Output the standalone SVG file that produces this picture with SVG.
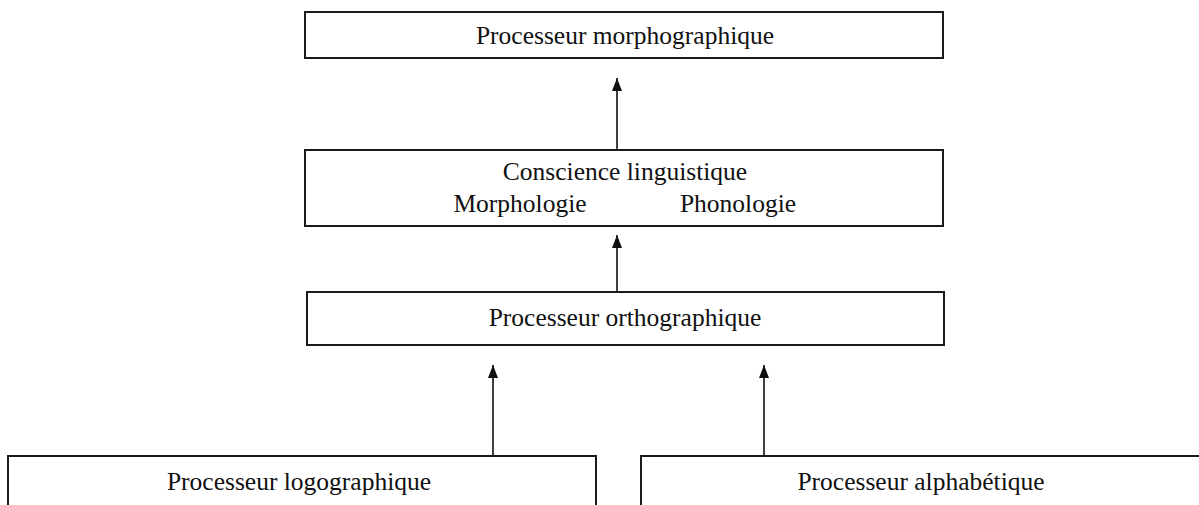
<svg xmlns="http://www.w3.org/2000/svg" width="1199" height="505" viewBox="0 0 1199 505">
  <style>
    .box { fill: #ffffff; stroke: #1a1a1a; stroke-width: 2; }
    .lbl { font-family: "Liberation Serif", "Times New Roman", serif; font-size: 25.5px; fill: #111111; text-anchor: middle; }
    .conn { stroke: #111111; stroke-width: 1.6; fill: none; }
  </style>
  <defs>
    <marker id="arr" viewBox="0 0 13 10" refX="13" refY="5" markerWidth="13" markerHeight="10" markerUnits="userSpaceOnUse" orient="auto">
      <path d="M0,0 L13,5 L0,10 Z" fill="#111111"/>
    </marker>
  </defs>
  <rect width="1199" height="505" fill="#ffffff"/>
  <g id="connectors">
    <line class="conn" x1="617" y1="149" x2="617" y2="78" marker-end="url(#arr)"/>
    <line class="conn" x1="617" y1="291" x2="617" y2="235" marker-end="url(#arr)"/>
    <line class="conn" x1="493" y1="455" x2="493" y2="365" marker-end="url(#arr)"/>
    <line class="conn" x1="764" y1="455" x2="764" y2="365" marker-end="url(#arr)"/>
  </g>
  <g id="morphographique">
    <rect class="box" x="305" y="12" width="638" height="46"/>
    <text class="lbl" x="625" y="44">Processeur morphographique</text>
  </g>
  <g id="conscience">
    <rect class="box" x="305" y="150" width="638" height="76"/>
    <text class="lbl" x="625" y="180">Conscience linguistique</text>
    <text class="lbl" x="520" y="212">Morphologie</text>
    <text class="lbl" x="738" y="212">Phonologie</text>
  </g>
  <g id="orthographique">
    <rect class="box" x="307" y="292" width="637" height="53"/>
    <text class="lbl" x="625" y="326">Processeur orthographique</text>
  </g>
  <g id="logographique">
    <rect class="box" x="8" y="456" width="588" height="60"/>
    <text class="lbl" x="299" y="490">Processeur logographique</text>
  </g>
  <g id="alphabetique">
    <rect class="box" x="641" y="456" width="570" height="60"/>
    <text class="lbl" x="921" y="490">Processeur alphabétique</text>
  </g>
</svg>
